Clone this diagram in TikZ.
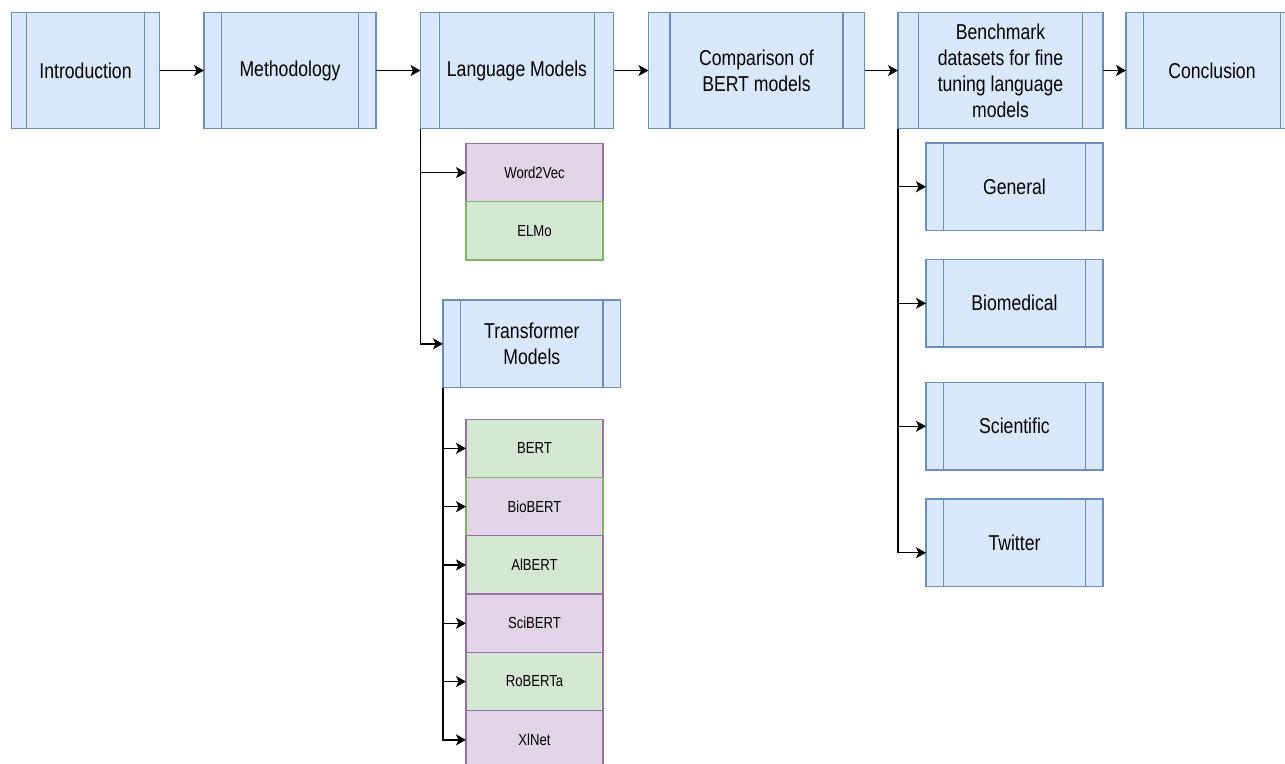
\documentclass[tikz,border=0pt]{standalone}
\usepackage{fontspec}
\setmainfont{Liberation Sans}[FakeStretch=0.82]
\usepackage{tikz}
\usetikzlibrary{arrows.meta, positioning, calc}

\definecolor{procfill}{HTML}{DAE8FC}
\definecolor{procline}{HTML}{6C8EBF}
\definecolor{greenfill}{HTML}{D5E8D4}
\definecolor{greenline}{HTML}{82B366}
\definecolor{purplefill}{HTML}{E1D5E7}
\definecolor{purpleline}{HTML}{9673A6}

\newcommand{\procfont}{\fontsize{21.5}{26}\selectfont}
\newcommand{\itemfont}{\fontsize{16}{19}\selectfont}

\begin{document}
\begin{tikzpicture}[
    x=1pt, y=-1pt,
    proc/.style = {
        rectangle, draw=procline, fill=procfill, line width=1.3pt,
        inner sep=0pt, outer sep=0pt, align=center, font=\procfont,
        minimum height=116pt,
        path picture={
            \draw[procline, line width=1.3pt]
              ($(path picture bounding box.south west)!0.1!(path picture bounding box.south east)$)
              -- ($(path picture bounding box.north west)!0.1!(path picture bounding box.north east)$)
              ($(path picture bounding box.south west)!0.9!(path picture bounding box.south east)$)
              -- ($(path picture bounding box.north west)!0.9!(path picture bounding box.north east)$);
        }
    },
    leaf/.style = {proc, minimum width=177pt, minimum height=87.5pt},
    model/.style = {
        rectangle, line width=1.3pt, inner sep=0pt, outer sep=0pt,
        minimum width=137pt, minimum height=58.3pt, font=\itemfont
    },
    greenbox/.style = {model, fill=greenfill, draw=#1},
    greenbox/.default = purpleline,
    purplebox/.style = {model, fill=purplefill, draw=#1},
    purplebox/.default = purpleline,
    arr/.style = {-{Stealth[length=10pt, width=11pt, inset=2.5pt]}, line width=1.4pt, draw=black},
]
\useasboundingbox (0,0) rectangle (1285,763);

% Main chapters
\node[proc, minimum width=148pt] (intro) at (85.5,70.5) {Introduction};
\node[proc, minimum width=172pt, right=44.5pt of intro] (meth) {Methodology};
\node[proc, minimum width=193pt, right=44.5pt of meth] (lm) {Language Models};
\node[proc, minimum width=216pt, right=35pt of lm] (comp) {Comparison of\\BERT models};
\node[proc, minimum width=205pt, right=33.5pt of comp] (bench)
    {Benchmark\\datasets for fine\\tuning language\\models};
\node[proc, minimum width=172pt, right=23pt of bench] (concl) {Conclusion};

% Language models
\node[purplebox, below right=15pt and 45.5pt of lm.south west] (w2v) {Word2Vec};
\node[greenbox=greenline, below=0pt of w2v] (elmo) {ELMo};
\node[proc, minimum width=177.7pt, minimum height=87.7pt,
      below right=171.5pt and 22.5pt of lm.south west] (trans) {Transformer\\Models};

% Transformer models
\node[greenbox, below right=31.5pt and 23pt of trans.south west] (bert) {BERT};
\node[purplebox=greenline, below=0pt of bert] (biobert) {BioBERT};
\node[greenbox, below=0pt of biobert] (albert) {AlBERT};
\node[purplebox, below=0pt of albert] (scibert) {SciBERT};
\node[greenbox, below=0pt of scibert] (roberta) {RoBERTa};
\node[purplebox, below=0pt of roberta] (xlnet) {XlNet};

% Benchmark datasets
\node[leaf, below right=14.5pt and 28pt of bench.south west] (general) {General};
\node[leaf, below=29pt of general] (biomed) {Biomedical};
\node[leaf, below=35.5pt of biomed] (scient) {Scientific};
\node[leaf, below=29pt of scient] (twitter) {Twitter};

% Arrows
\draw[arr] (intro) -- (meth);
\draw[arr] (meth) -- (lm);
\draw[arr] (lm) -- (comp);
\draw[arr] (comp) -- (bench);
\draw[arr] (bench) -- (concl);

\draw[arr] (lm.south west) |- (w2v.west);
\draw[arr] (lm.south west) |- (trans.west);

\draw[arr] (trans.south west) |- (bert.west);
\draw[arr] (trans.south west) |- (biobert.west);
\draw[arr] (trans.south west) |- (albert.west);
\draw[arr] (trans.south west) |- (scibert.west);
\draw[arr] (trans.south west) |- (roberta.west);
\draw[arr] (trans.south west) |- (xlnet.west);

\draw[arr] (bench.south west) |- (general.west);
\draw[arr] (bench.south west) |- (biomed.west);
\draw[arr] (bench.south west) |- (scient.west);
\draw[arr] (bench.south west) |- ([yshift=-10pt]twitter.west);

\end{tikzpicture}
\end{document}
